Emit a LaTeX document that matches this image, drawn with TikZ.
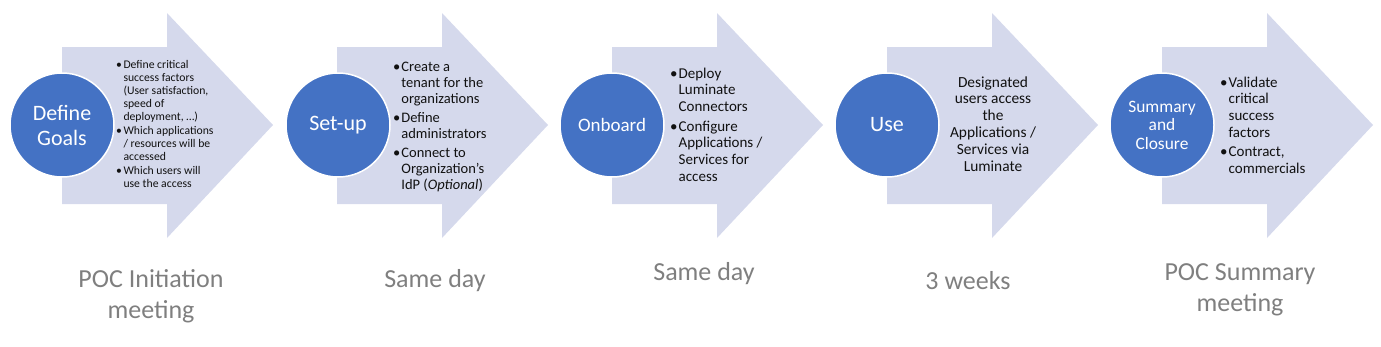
\documentclass[tikz,border=0pt]{standalone}
\usepackage{fontspec}
\setmainfont{Carlito}
\definecolor{arrowfill}{HTML}{D5D9EC}
\definecolor{circfill}{HTML}{4472C4}
\definecolor{labelgray}{HTML}{7F7F7F}
\definecolor{bodytext}{HTML}{111111}
\newcommand{\bl}{\textbullet}
\begin{document}
\begin{tikzpicture}[x=1pt,y=-1pt,
  bigarrow/.style={fill=arrowfill,draw=none},
  stepcirc/.style={circle,fill=circfill,draw=white,line width=1.5pt,minimum size=104pt,inner sep=0pt,text=white,align=center},
  bultext/.style={anchor=base west,inner sep=0pt,text=bodytext},
  whenlabel/.style={text=labelgray,font=\fontsize{26}{30.5}\selectfont,align=center,inner sep=0pt}]
\useasboundingbox (0,0) rectangle (1381,346);
\foreach \x in {62,337,612,887,1162} {
  \fill[arrowfill] (\x,47) -- (\x+105,47) -- (\x+105,13) -- (\x+211,125) -- (\x+105,238) -- (\x+105,204) -- (\x,204) -- cycle;
}
% circles
\node[stepcirc,font=\fontsize{22}{25}\selectfont] (c1) at (62,125) {Define\\Goals};
\node[stepcirc,font=\fontsize{22}{25}\selectfont] (c2) at (338,125) {Set-up};
\node[stepcirc,font=\fontsize{19}{22}\selectfont] (c3) at (612,125) {Onboard};
\node[stepcirc,font=\fontsize{22}{25}\selectfont] (c4) at (887,125) {Use};
\node[stepcirc,font=\fontsize{17.4}{18.5}\selectfont] (c5) at (1162,125) {Summary\\and\\Closure};
% texts in arrows
\node[bultext,font=\fontsize{11.7}{13.2}\selectfont] (t1) at (116,68) {\begin{tabular}[t]{@{}l@{\hspace{1.5pt}}l@{}}
\bl & Define critical\\ & success factors\\ & (User satisfaction,\\ & speed of\\ & deployment, …)\\[0.5pt]
\bl & Which applications\\ & / resources will be\\ & accessed\\[0.5pt]
\bl & Which users will\\ & use the access
\end{tabular}};
\node[bultext,font=\fontsize{14.5}{16}\selectfont] (t2) at (393,71) {\begin{tabular}[t]{@{}l@{\hspace{1pt}}l@{}}
\bl & Create a\\ & tenant for the\\ & organizations\\[3pt]
\bl & Define\\ & administrators\\[3pt]
\bl & Connect to\\ & Organization’s\\ & IdP (\textit{Optional})
\end{tabular}};
\node[bultext,font=\fontsize{15}{16.7}\selectfont] (t3) at (670,78) {\begin{tabular}[t]{@{}l@{\hspace{1pt}}l@{}}
\bl & Deploy\\ & Luminate\\ & Connectors\\[3pt]
\bl & Configure\\ & Applications /\\ & Services for\\ & access
\end{tabular}};
\node[anchor=base,inner sep=0pt,text=bodytext,font=\fontsize{15.4}{16.8}\selectfont] (t4) at (993,87) {\begin{tabular}[t]{@{}c@{}}
Designated\\ users access\\ the\\ Applications /\\ Services via\\ Luminate
\end{tabular}};
\node[bultext,font=\fontsize{15}{16.7}\selectfont] (t5) at (1220,87) {\begin{tabular}[t]{@{}l@{\hspace{1pt}}l@{}}
\bl & Validate\\ & critical\\ & success\\ & factors\\[3pt]
\bl & Contract,\\ & commercials
\end{tabular}};
% timing labels
\node[whenlabel] (w1) at (151,296) {POC Initiation\\meeting};
\node[whenlabel] (w2) at (435,281) {Same day};
\node[whenlabel] (w3) at (704,274) {Same day};
\node[whenlabel] (w4) at (968,281) {3 weeks};
\node[whenlabel] (w5) at (1240,290) {POC Summary\\meeting};
\end{tikzpicture}
\end{document}
